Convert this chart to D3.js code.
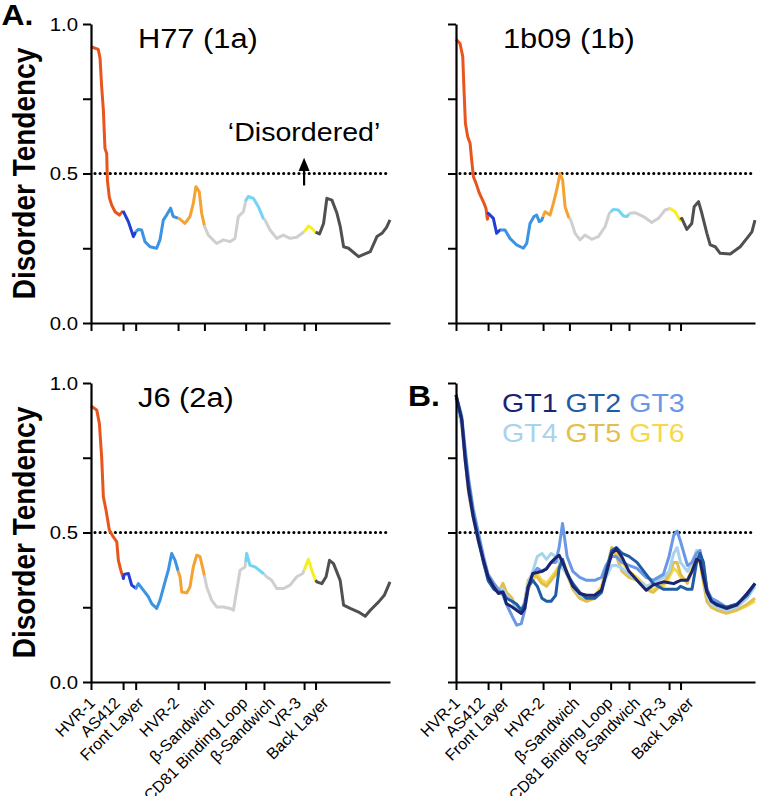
<!DOCTYPE html>
<html><head><meta charset="utf-8">
<script src="https://cdn.jsdelivr.net/npm/d3@7"></script>
<style>body{margin:0;background:#fff}svg{display:block}text{font-family:"Liberation Sans",Arial,Helvetica,sans-serif}</style>
</head><body><svg id="c" width="757" height="796"></svg>
<script>
// ---------- data ----------
const regionLabels = ["HVR-1","AS412","Front Layer","HVR-2","β-Sandwich","CD81 Binding Loop","β-Sandwich","VR-3","Back Layer"];
const regionStart = [384,412,423,460,483,519,535,570,580];
const regionEnd = 645;
const regionColors = ["#e8561e","#1f3fd6","#3b93e3","#f4a230","#cfcfcf","#74d4f4","#cfcfcf","#f7ee1f","#505050"];
const yTicks = [0,0.25,0.5,0.75,1];
const yTickLabels = ["0.0","","0.5","","1.0"];
const titles = ["H77 (1a)","1b09 (1b)","J6 (2a)"];

const h77 = [[384,0.924],[390.4,0.915],[391.9,0.885],[393.3,0.79],[394.8,0.712],[396.2,0.584],[397.7,0.567],[398.3,0.478],[400,0.42],[402,0.395],[405,0.372],[408.8,0.361],[412,0.375],[416.6,0.339],[421,0.289],[423,0.305],[425.3,0.313],[428.2,0.311],[431.1,0.272],[435.5,0.255],[441.3,0.25],[444.2,0.278],[447.1,0.344],[450,0.361],[453.5,0.384],[455.8,0.356],[460.8,0.35],[466,0.333],[470.4,0.356],[473.3,0.40],[475.6,0.456],[478.5,0.439],[480.6,0.367],[483.2,0.322],[486.4,0.294],[493.7,0.266],[499.5,0.278],[505.3,0.272],[509.7,0.283],[512.6,0.356],[517,0.372],[519.3,0.411],[521.3,0.423],[525.7,0.417],[530.1,0.389],[534.4,0.35],[535.9,0.344],[540.3,0.311],[546.1,0.283],[551.9,0.294],[557.8,0.283],[563.6,0.287],[570,0.305],[573.8,0.324],[576.7,0.317],[579.6,0.305],[583.5,0.298],[587,0.333],[589.9,0.417],[594.3,0.411],[598.7,0.367],[601.6,0.322],[604.5,0.255],[608.8,0.25],[617.6,0.222],[627.8,0.239],[633.6,0.289],[638,0.30],[642,0.32],[645,0.345]];

const b1b09 = [[384,0.949],[387.5,0.935],[389.9,0.891],[391,0.779],[392.2,0.668],[394.2,0.623],[396.3,0.601],[397.7,0.545],[399.2,0.489],[401.5,0.467],[404.4,0.434],[408.5,0.40],[410.2,0.383],[411.4,0.347],[412.2,0.367],[416.6,0.35],[419.5,0.30],[422.4,0.311],[426.8,0.311],[431.1,0.283],[437,0.261],[442.8,0.25],[445.7,0.266],[448.6,0.333],[452.1,0.356],[454.4,0.361],[456.7,0.339],[458.8,0.344],[461.7,0.372],[466.1,0.361],[469,0.40],[471.9,0.445],[474.8,0.50],[477.1,0.478],[479.2,0.389],[482.1,0.356],[484.2,0.344],[487.9,0.30],[492.3,0.278],[496.6,0.294],[502.4,0.28],[508.3,0.289],[514.1,0.322],[517.9,0.367],[521.4,0.38],[525.7,0.378],[530.1,0.358],[533,0.356],[536,0.367],[540.3,0.369],[547.6,0.356],[554.9,0.336],[560.7,0.35],[566.5,0.378],[570.9,0.383],[575.3,0.372],[579.6,0.344],[581.1,0.35],[585.5,0.313],[589.8,0.333],[591.9,0.389],[595.7,0.406],[598.6,0.367],[603,0.30],[605.9,0.261],[610.3,0.255],[614.6,0.233],[623.4,0.231],[632.1,0.255],[637.9,0.283],[642.3,0.305],[645,0.344]];

const j6 = [[384,0.923],[389,0.91],[391.3,0.865],[393.3,0.753],[394.8,0.619],[397.1,0.575],[400,0.508],[403.5,0.485],[406.5,0.469],[407.9,0.407],[410,0.374],[412.3,0.346],[412.9,0.36],[416.6,0.363],[419.5,0.324],[423.3,0.313],[425.3,0.329],[429.7,0.307],[434.1,0.285],[437,0.262],[441.3,0.246],[444.2,0.273],[448.6,0.335],[451.5,0.374],[454.4,0.43],[457.4,0.407],[460.3,0.368],[461.7,0.352],[463.2,0.301],[467.5,0.298],[470.4,0.318],[473.3,0.385],[476.3,0.424],[479.2,0.419],[482.6,0.363],[485,0.318],[489.4,0.273],[493.7,0.251],[499.5,0.251],[505.3,0.246],[508.3,0.24],[511.2,0.307],[514.1,0.374],[518.5,0.385],[519.9,0.43],[522.8,0.39],[527.2,0.385],[534.5,0.363],[537.3,0.352],[541.7,0.34],[546.1,0.3125],[551.9,0.3125],[557.8,0.324],[563.6,0.352],[568.8,0.363],[570,0.374],[573.8,0.41],[576.7,0.374],[579.6,0.343],[581.1,0.335],[585.5,0.329],[589.2,0.352],[592.2,0.407],[595.7,0.396],[601.5,0.34],[604.5,0.257],[610.3,0.246],[617.6,0.234],[623.4,0.22],[627.8,0.24],[635.1,0.268],[640,0.29],[645,0.335]];

const gtResidues = [384,389,392,395,399,403.5,408,412,417,421,425,428,433,437,441,444,447,451,455,459,463,467,471,474,477,481,486,492,498,505,511,515,520,524,529,535,542,550,556,565,570,574,577,580,586,590,594,597,600,603,607,612,620,629,638,645];
const gtNames = ["GT1","GT2","GT3","GT4","GT5","GT6"];
const gtColors = ["#1b2470","#1f5ca6","#6a97e6","#a9d2eb","#e2bf4c","#f6d84c"];
const gt1 = [0.96,0.876,0.742,0.642,0.552,0.474,0.407,0.352,0.318,0.296, 0.301,0.262,0.251,0.24,0.229,0.246,0.318,0.363,0.366,0.37, 0.378,0.40,0.415,0.424,0.40,0.365,0.32,0.296,0.29,0.29, 0.307,0.36,0.43,0.446,0.417,0.37,0.34,0.307,0.324,0.335, 0.332,0.329,0.335,0.34,0.34,0.37,0.41,0.405,0.35,0.30, 0.27,0.257,0.246,0.257,0.296,0.329];
const gt2 = [0.96,0.88,0.76,0.66,0.56,0.48,0.40,0.34,0.31,0.30, 0.30,0.28,0.27,0.26,0.24,0.26,0.32,0.34,0.32,0.28, 0.27,0.27,0.29,0.38,0.41,0.36,0.33,0.30,0.28,0.28, 0.30,0.37,0.44,0.45,0.43,0.42,0.40,0.36,0.33,0.31, 0.31,0.31,0.31,0.32,0.31,0.31,0.40,0.43,0.40,0.31, 0.27,0.26,0.25,0.26,0.29,0.33];
const gt3 = [0.96,0.89,0.78,0.68,0.58,0.50,0.42,0.36,0.33,0.31, 0.29,0.26,0.22,0.19,0.195,0.24,0.31,0.36,0.38,0.37, 0.38,0.40,0.40,0.45,0.53,0.42,0.37,0.35,0.34,0.34, 0.35,0.39,0.42,0.42,0.40,0.39,0.38,0.35,0.34,0.36, 0.42,0.49,0.505,0.47,0.39,0.40,0.43,0.44,0.38,0.31, 0.28,0.27,0.25,0.26,0.29,0.33];
const gt4 = [0.95,0.86,0.74,0.64,0.55,0.47,0.40,0.35,0.32,0.31, 0.31,0.29,0.27,0.24,0.24,0.27,0.33,0.37,0.42,0.43, 0.41,0.43,0.42,0.40,0.38,0.36,0.32,0.29,0.28,0.28, 0.30,0.35,0.39,0.39,0.38,0.36,0.34,0.32,0.33,0.35, 0.37,0.43,0.45,0.40,0.37,0.40,0.44,0.43,0.36,0.29, 0.26,0.25,0.24,0.25,0.28,0.32];
const gt5 = [0.95,0.86,0.75,0.63,0.55,0.47,0.40,0.35,0.32,0.30, 0.33,0.30,0.28,0.24,0.23,0.27,0.34,0.36,0.35,0.33, 0.32,0.34,0.36,0.38,0.40,0.36,0.31,0.28,0.27,0.28, 0.31,0.37,0.45,0.42,0.37,0.35,0.34,0.31,0.30,0.33, 0.36,0.40,0.40,0.36,0.33,0.37,0.42,0.41,0.34,0.27, 0.25,0.24,0.23,0.24,0.26,0.28];
const gt6 = [0.96,0.87,0.76,0.65,0.56,0.48,0.41,0.36,0.33,0.31, 0.31,0.29,0.27,0.25,0.24,0.26,0.31,0.34,0.36,0.34, 0.33,0.35,0.37,0.39,0.41,0.37,0.32,0.29,0.28,0.29, 0.32,0.38,0.43,0.44,0.40,0.37,0.35,0.32,0.31,0.32, 0.35,0.38,0.37,0.35,0.34,0.38,0.41,0.40,0.33,0.27, 0.25,0.24,0.235,0.24,0.255,0.27];

// ---------- layout ----------
const W = 299, H = 299, SX = 1.1;
const labelDx = [5,-2,9,2,11,3,12,-2,14];   // label end offset from its tick (px)
const panels = [
  {left:91, top:24, series:h77, title:titles[0], yLabels:true, xLabels:false},
  {left:456, top:24, series:b1b09, title:titles[1], yLabels:false, xLabels:false},
  {left:91, top:383, series:j6, title:titles[2], yLabels:true, xLabels:true},
  {left:456, top:383, gt:true, yLabels:false, xLabels:true}
];
const svg = d3.select("#c");
svg.append("rect").attr("width",757).attr("height",796).attr("fill","#fff");
const x = d3.scaleLinear().domain([regionStart[0], regionEnd]).range([0, W]);
const y = d3.scaleLinear().domain([0, 1]).range([H, 0]);

function interp(s, r){
  for (let i=0;i<s.length-1;i++){
    if (s[i][0] <= r && s[i+1][0] >= r){
      const t = (r - s[i][0])/((s[i+1][0]-s[i][0])||1);
      return s[i][1] + t*(s[i+1][1]-s[i][1]);
    }
  }
  return s[s.length-1][1];
}
const line = d3.line().x(d=>x(d[0])).y(d=>y(d[1]));

panels.forEach((p, pi) => {
  const g = svg.append("g").attr("transform", `translate(${p.left},${p.top})`);
  g.append("line").attr("x1", 4).attr("x2", W-3).attr("y1", y(0.5)).attr("y2", y(0.5))
    .attr("stroke","#000").attr("stroke-width",3.2).attr("stroke-dasharray","0,5.1").attr("stroke-linecap","round");

  if (p.gt){
    const all = [gt1,gt2,gt3,gt4,gt5,gt6];
    for (let k=all.length-1;k>=0;k--){
      const pts = gtResidues.map((r,i)=>[r, all[k][i]]);
      g.append("path").datum(pts).attr("d", line).attr("fill","none")
        .attr("stroke", gtColors[k]).attr("stroke-width",3).attr("stroke-linejoin","round");
    }
  } else {
    regionStart.forEach((s, i) => {
      const e = i < regionStart.length-1 ? regionStart[i+1] : regionEnd;
      const pts = [[s, interp(p.series, s)], ...p.series.filter(d => d[0] > s && d[0] < e), [e, interp(p.series, e)]];
      g.append("path").datum(pts).attr("d", line).attr("fill","none")
        .attr("stroke", regionColors[i]).attr("stroke-width",3).attr("stroke-linejoin","round");
    });
  }

  const ya = g.append("g").call(d3.axisLeft(y).tickValues(yTicks).tickSize(8).tickSizeOuter(0).tickFormat(""));
  const xa = g.append("g").attr("transform",`translate(0,${H})`)
    .call(d3.axisBottom(x).tickValues(regionStart).tickSize(8).tickSizeOuter(0).tickFormat(""));
  [ya, xa].forEach(a => { a.select(".domain").attr("stroke","#000").attr("stroke-width",2.2);
    a.selectAll(".tick line").attr("stroke","#000").attr("stroke-width",2); });

  if (p.yLabels){
    yTicks.forEach((t, i) => {
      if (!yTickLabels[i]) return;
      g.append("text").attr("transform", `translate(-13,${y(t)}) scale(${SX},1)`)
        .attr("text-anchor","end").attr("dy","0.36em").attr("font-size",18.5).attr("fill","#000").text(yTickLabels[i]);
    });
  }
  if (p.xLabels){
    regionStart.forEach((r, i) => {
      g.append("text").attr("transform", `translate(${x(r)+labelDx[i]},${H+22}) rotate(-45)`)
        .attr("text-anchor","end").attr("font-size",16).attr("fill","#000").text(regionLabels[i]);
    });
  }
  if (p.title){
    g.append("text").attr("transform", `translate(47,24) scale(${SX},1)`)
      .attr("font-size",28).attr("fill","#000").text(p.title);
  }
  if (pi === 0){
    const ax = x(regionStart[7]);
    g.append("line").attr("x1", ax).attr("x2", ax).attr("y1", y(0.46)).attr("y2", y(0.53))
      .attr("stroke","#000").attr("stroke-width",2.2);
    g.append("path").attr("d", `M${ax},${y(0.553)} L${ax-5.5},${y(0.508)} L${ax+5.5},${y(0.508)} Z`).attr("fill","#000");
    g.append("text").attr("transform", `translate(${ax},${y(0.608)}) scale(${SX},1)`)
      .attr("text-anchor","middle").attr("font-size",26).attr("fill","#000").text("‘Disordered’");
  }
  if (p.gt){
    const lg = [[0,1,2],[3,4,5]];
    lg.forEach((row, ri) => {
      const t = g.append("text").attr("transform", `translate(46,${29 + ri*30}) scale(${SX},1)`).attr("font-size",26);
      row.forEach((k, j) => {
        t.append("tspan").attr("fill", gtColors[k]).text((j ? " " : "") + gtNames[k]);
      });
    });
  }
});

[173.5, 532.5].forEach(cy => {
  svg.append("text").attr("transform", `translate(35,${cy}) scale(${SX},1) rotate(-90)`)
    .attr("text-anchor","middle").attr("font-size",28).attr("font-weight","bold").attr("fill","#000").text("Disorder Tendency");
});
svg.append("text").attr("transform","translate(1.5,24.5) scale(1.1,1)").attr("font-size",29).attr("font-weight","bold").text("A.");
svg.append("text").attr("transform","translate(408,406) scale(1.1,1)").attr("font-size",29).attr("font-weight","bold").text("B.");
</script></body></html>
